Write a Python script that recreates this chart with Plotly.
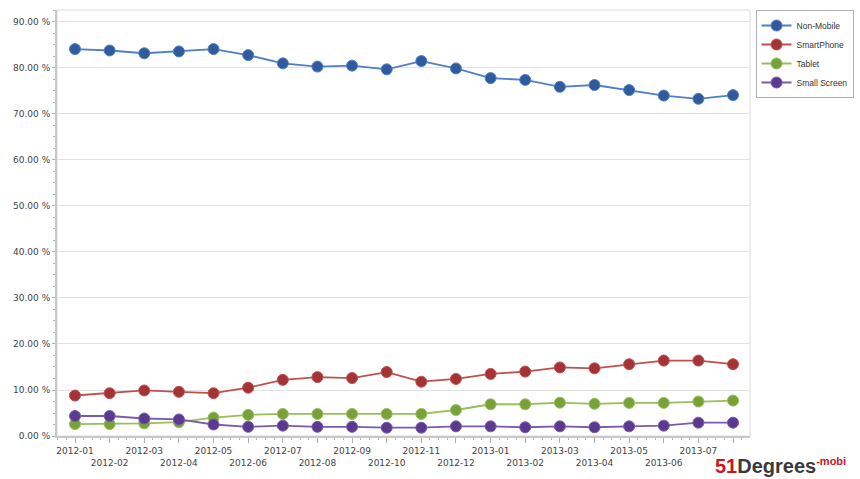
import plotly.graph_objects as go

months = ["2012-01", "2012-02", "2012-03", "2012-04", "2012-05", "2012-06", "2012-07",
          "2012-08", "2012-09", "2012-10", "2012-11", "2012-12", "2013-01", "2013-02",
          "2013-03", "2013-04", "2013-05", "2013-06", "2013-07", "2013-08"]

non_mobile = [84.1, 83.8, 83.2, 83.6, 84.1, 82.8, 81.0, 80.3, 80.5, 79.7, 81.5, 79.9,
              77.8, 77.4, 75.9, 76.3, 75.2, 74.0, 73.3, 74.1]
smartphone = [8.8, 9.3, 9.9, 9.6, 9.3, 10.5, 12.2, 12.8, 12.6, 13.9, 11.8, 12.4,
              13.5, 14.0, 14.9, 14.7, 15.6, 16.4, 16.4, 15.6]
tablet = [2.6, 2.6, 2.75, 3.0, 4.0, 4.6, 4.8, 4.8, 4.8, 4.8, 4.8, 5.65,
          6.9, 6.9, 7.25, 7.0, 7.2, 7.2, 7.5, 7.7]
small_screen = [4.35, 4.35, 3.8, 3.6, 2.5, 2.0, 2.25, 2.0, 2.0, 1.8, 1.8, 2.1,
                2.1, 1.9, 2.1, 1.9, 2.1, 2.25, 2.9, 2.9]

series = [
    ("Non-Mobile", non_mobile, "#2f5b9c", "#4f7fc6"),
    ("SmartPhone", smartphone, "#a33334", "#c05050"),
    ("Tablet", tablet, "#78a13a", "#96c05a"),
    ("Small Screen", small_screen, "#5a3a8e", "#7a5aae"),
]

idx = list(range(len(months)))
# alternate label rows; last label hidden behind logo in the original
ticktext = []
for i, m in enumerate(months):
    if i == len(months) - 1:
        ticktext.append("")
    elif i % 2 == 0:
        ticktext.append(m)
    else:
        ticktext.append("<br>" + m)

fig = go.Figure()
for name, vals, mcol, lcol in series:
    fig.add_trace(go.Scatter(
        x=idx, y=vals, name=name, mode="lines+markers",
        line=dict(color=lcol, width=1.8),
        marker=dict(color=mcol, size=11, line=dict(color=lcol, width=1)),
    ))

fig.update_layout(
    width=860, height=479,
    margin=dict(l=57, r=110, t=10, b=43, autoexpand=False),
    paper_bgcolor="white", plot_bgcolor="white",
    font=dict(family="DejaVu Sans", size=9, color="#444444"),
    showlegend=True,
    legend=dict(x=1.008, y=1.0, xanchor="left", yanchor="top",
                bordercolor="#b0b0b0", borderwidth=1, bgcolor="white",
                font=dict(family="Liberation Sans", size=8.5, color="#333333"),
                itemwidth=30, tracegroupgap=0),
    xaxis=dict(
        range=[-0.52, 19.49], tickmode="array", tickvals=idx, ticktext=ticktext,
        showgrid=False, zeroline=False, automargin=False,
        showline=True, linecolor="#c8c8c8", linewidth=2, mirror=False,
        ticks="outside", ticklen=5, tickcolor="#b0b0b0",
        minor=dict(ticks="outside", ticklen=2, tickcolor="#b8b8b8", dtick=0.25, tick0=0),
        tickangle=0,
    ),
    yaxis=dict(
        range=[0, 92.6], tickmode="linear", tick0=0, dtick=10,
        tickformat=".2f", ticksuffix=" %", automargin=False,
        showgrid=True, gridcolor="#e2e2e2", gridwidth=1, zeroline=False,
        showline=True, linecolor="#c8c8c8", linewidth=2,
        ticks="outside", ticklen=3, tickcolor="#b0b0b0",
        minor=dict(ticks="outside", ticklen=2, tickcolor="#b8b8b8", dtick=2.5),
    ),
)

# right and top plot border
fig.add_shape(type="rect", xref="paper", yref="paper", x0=0, y0=0, x1=1, y1=1,
              line=dict(color="#dcdcdc", width=1), layer="below")

fig.add_annotation(
    xref="paper", yref="paper", x=1.142, y=-0.101, xanchor="right", yanchor="bottom",
    showarrow=False,
    text="<b><span style='color:#c8161d'>51</span><span style='color:#3a3a3a'>Degrees</span>"
         "<sup><span style='color:#c8161d;font-size:11px'>-mobi</span></sup></b>",
    font=dict(family="Liberation Sans", size=20, color="#3a3a3a"),
)

fig.write_html("out.html", config={"displayModeBar": False},
               post_script="document.body.style.margin='0';document.body.style.padding='0';")
